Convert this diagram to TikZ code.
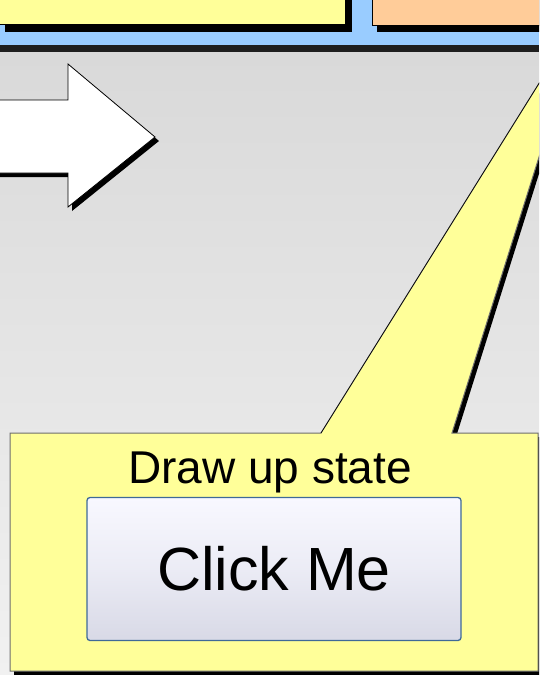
\documentclass[tikz,border=0pt]{standalone}
\usepackage{fontspec}
\usetikzlibrary{calc}
\setmainfont{Liberation Sans}
\definecolor{noteyellow}{HTML}{FFFF99}
\definecolor{noteorange}{HTML}{FFCC99}
\definecolor{bandblue}{HTML}{99CCFF}
\definecolor{bandDark}{HTML}{1E1E1E}
\definecolor{bgTop}{HTML}{D9D9D9}
\definecolor{bgBot}{HTML}{F1F1F1}
\definecolor{btnBorder}{HTML}{3F6A98}
\definecolor{btnTop}{HTML}{F8F8FF}
\definecolor{btnBot}{HTML}{D8D9E6}
\definecolor{calloutEdge}{HTML}{6E6E6E}
\tikzset{
  shadowfill/.style={fill=black},
  topbox/.style={draw=black, line width=1pt},
  buttonbox/.style={draw=btnBorder, line width=1.3pt, rounded corners=3pt,
    top color=btnTop, bottom color=btnBot, middle color=btnTop!60!btnBot,
    minimum width=374pt, minimum height=143pt, inner sep=0pt,
    font=\fontsize{61}{64}\selectfont},
  calloutlabel/.style={anchor=base, inner sep=0pt, font=\fontsize{46}{50}\selectfont}
}
\begin{document}
\begin{tikzpicture}[x=1pt,y=-1pt]
\useasboundingbox (0,0) rectangle (539,675);
\clip (0,0) rectangle (539,675);
% background
\shade[top color=bgTop, bottom color=bgBot] (0,52) rectangle (539,675);
\fill[bandblue] (0,0) rectangle (539,45);
\fill[bandDark] (0,45) rectangle (539,52);
% top boxes
\fill[shadowfill] (5,-5) rectangle (352,32);
\node[topbox, fill=noteyellow, minimum width=352pt, minimum height=30pt, inner sep=0pt, anchor=south east] (yellowbox) at (346,25) {};
\fill[shadowfill] (377,-5) rectangle (545,32);
\node[topbox, fill=noteorange, minimum width=180pt, minimum height=31pt, inner sep=0pt, anchor=south west] (orangebox) at (372,26) {};
% block arrow
\coordinate (arrowTip) at (155,137);
\fill[shadowfill] (-12,104) -- (72,104) -- (72,68) -- (159,141) -- (72,211) -- (72,177) -- (-12,177) -- cycle;
\draw[fill=white, line width=0.8pt] (-12,100) -- (68,100) -- (68,64) -- (arrowTip) -- (68,207) -- (68,173) -- (-12,173) -- cycle;
% callout
\coordinate (apex) at (586,8);
\fill[shadowfill] (14,437) -- (325,437) -- ($(apex)+(4,4)$) -- (456,437) -- (545,437) -- (545,675) -- (14,675) -- cycle;
\draw[calloutEdge, fill=noteyellow, line width=1pt] (10,433) -- (321,433) -- (apex) -- (452,433) -- (538,433) -- (538,671) -- (10,671) -- cycle;
\draw[black, line width=0.6pt] (321,433) -- (apex);
\node[calloutlabel] (uplabel) at (270,483) {Draw up state};
\node[buttonbox] (button) at (274,569) {Click Me};
\end{tikzpicture}
\end{document}
